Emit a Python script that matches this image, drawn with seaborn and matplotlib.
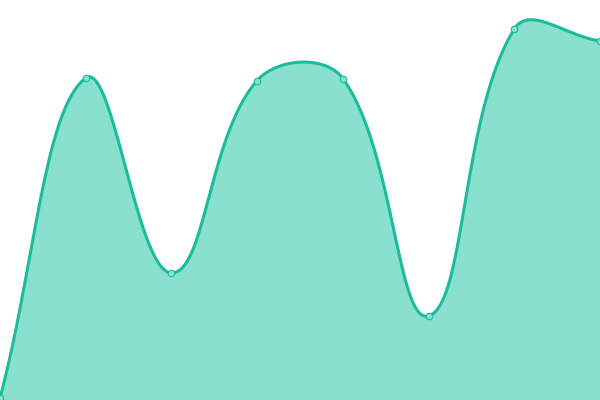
import numpy as np
import pandas as pd
import seaborn as sns
import matplotlib.pyplot as plt

labels = ['A', 'B', 'C', 'D', 'E', 'F', 'G', 'H']
values = [2, 322, 127, 319.5, 321.5, 84, 371, 359]

line_color = '#1abc9c'
fill_color = '#8ae0cf'


def spline_curve(px, py, tension=0.4, steps=40):
    # cubic bezier through the points, control points like chart.js "splineCurve"
    n = len(px)
    cps = []
    for i in range(n):
        prev_i = max(i - 1, 0)
        next_i = min(i + 1, n - 1)
        d01 = np.hypot(px[i] - px[prev_i], py[i] - py[prev_i])
        d12 = np.hypot(px[next_i] - px[i], py[next_i] - py[i])
        tot = d01 + d12
        s01 = d01 / tot if tot else 0
        s12 = d12 / tot if tot else 0
        fa, fb = tension * s01, tension * s12
        dx, dy = px[next_i] - px[prev_i], py[next_i] - py[prev_i]
        cps.append(((px[i] - fa * dx, py[i] - fa * dy), (px[i] + fb * dx, py[i] + fb * dy)))
    xs, ys = [px[0]], [py[0]]
    t = np.linspace(0, 1, steps)[1:]
    for i in range(n - 1):
        p0 = np.array([px[i], py[i]])
        p1 = np.array(cps[i][1])
        p2 = np.array(cps[i + 1][0])
        p3 = np.array([px[i + 1], py[i + 1]])
        for tt in t:
            pt = ((1 - tt) ** 3) * p0 + 3 * ((1 - tt) ** 2) * tt * p1 + 3 * (1 - tt) * tt ** 2 * p2 + tt ** 3 * p3
            xs.append(pt[0])
            ys.append(pt[1])
    return np.array(xs), np.array(ys)


sns.set_theme(style='white')
fig = plt.figure(figsize=(6, 4), dpi=100)
ax = fig.add_axes([0, 0, 1, 1])
ax.set_xlim(0, len(labels) - 1)
ax.set_ylim(0, 400)
ax.axis('off')

df = pd.DataFrame({'x': np.arange(len(labels)), 'y': values})

# smooth in pixel space
pix = ax.transData.transform(np.column_stack([df['x'], df['y']]))
sx, sy = spline_curve(pix[:, 0], pix[:, 1])
smooth = ax.transData.inverted().transform(np.column_stack([sx, sy]))
curve = pd.DataFrame({'x': smooth[:, 0], 'y': smooth[:, 1]})

ax.fill_between(curve['x'], curve['y'], 0, color=fill_color, linewidth=0)
sns.lineplot(data=curve, x='x', y='y', ax=ax, color=line_color, linewidth=2.2,
             sort=False, estimator=None)
sns.scatterplot(data=df, x='x', y='y', ax=ax, s=22, color=fill_color,
                edgecolor=line_color, linewidth=0.8, zorder=5)
ax.set_xlim(0, len(labels) - 1)
ax.set_ylim(0, 400)
ax.axis('off')

fig.savefig('out.png', dpi=100)
